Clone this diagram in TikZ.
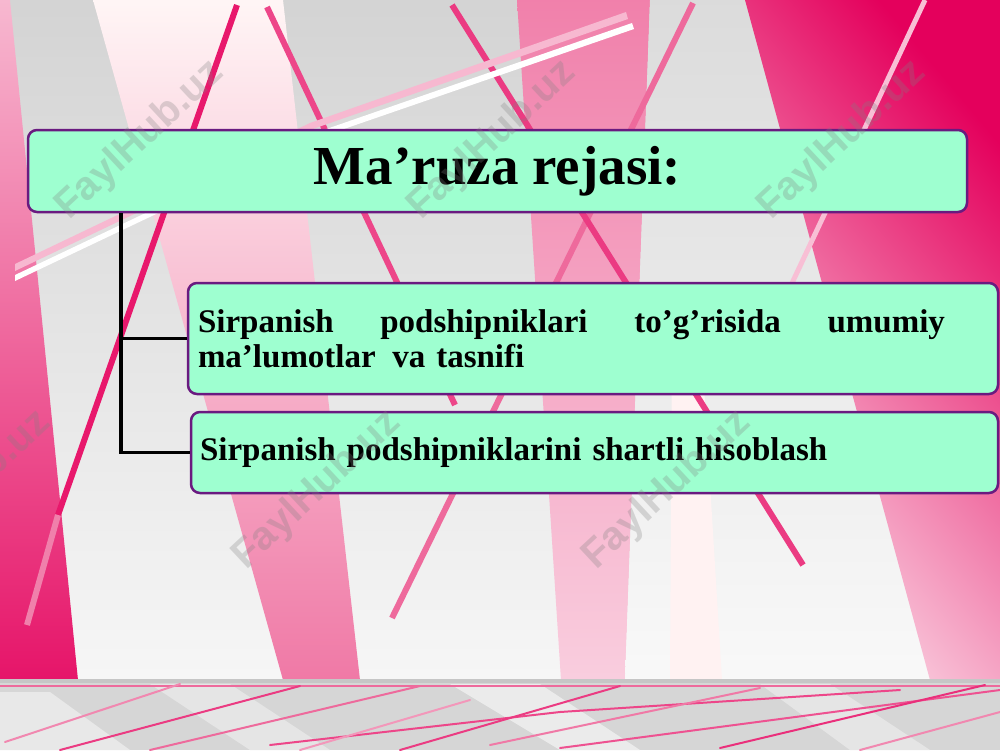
\documentclass[tikz,border=0pt]{standalone}
\usepackage{fontspec}
\setmainfont{Liberation Serif}
\newfontfamily\wmfont{Liberation Sans}
\usetikzlibrary{calc}
\definecolor{pdeep}{HTML}{E4005C}
\definecolor{pmid}{HTML}{EE6A9C}
\definecolor{plight}{HTML}{F7B8D0}
\definecolor{mint}{HTML}{9EFFD0}
\definecolor{bordc}{HTML}{6A1A80}
\definecolor{rib}{HTML}{E8186C}
\begin{document}
\begin{tikzpicture}[x=1pt,y=-1pt,
  box/.style={draw=bordc, line width=2.5pt, fill=mint, rounded corners=9pt, inner ysep=0pt},
  boxtext/.style={font=\bfseries\fontsize{33}{35}\selectfont},
  conn/.style={line width=3.5pt, black},
  ribbon/.style={line width=6pt, line cap=butt},
  wm/.style={font=\wmfont\bfseries\fontsize{40}{40}\selectfont, text=gray, opacity=0.28, rotate=43},
  floorline/.style={line width=2pt, line cap=round}]
\useasboundingbox (0,0) rectangle (1000,750);
\begin{scope}
\clip (0,0) rectangle (1000,750);
% base
\shade[top color=gray!34, bottom color=gray!7] (0,0) rectangle (1000,680);
% left pink band
\shade[top color=plight, bottom color=pdeep!92] (0,0) -- (10,0) -- (78,680) -- (0,680) -- cycle;
% light beam
\shade[top color=white!85!pink, middle color=pink!75!white, bottom color=pmid!90] (93,0) -- (283,0) -- (360,680) -- (283,680) -- cycle;
% band C
\shade[top color=pmid!85, bottom color=plight!70] (517,0) -- (650,0) -- (625,680) -- (561,680) -- cycle;
% gray band
\shade[top color=gray!28, bottom color=gray!5] (650,0) -- (745,0) -- (930,680) -- (625,680) -- cycle;
\shade[top color=white!80!pink, bottom color=pink!20!white] (672,320) -- (700,320) -- (722,680) -- (670,680) -- cycle;
% right pink region
\shade[top color=pdeep, bottom color=plight!55, shading angle=-50] (745,0) -- (1000,0) -- (1000,680) -- (930,680) -- cycle;
% pink ribbons
\draw[ribbon, rib] (237,5) -- (58,515);
\draw[ribbon, pmid!85] (58,515) -- (27,625);
\draw[ribbon, rib!80] (267,7) -- (455,405);
\draw[ribbon, pmid] (693,3) -- (392,618);
\draw[ribbon, rib!85] (452,5) -- (803,565);
\draw[ribbon, plight!90, line width=5pt] (925,0) -- (770,330);
% long double ribbon
\shade[left color=white, middle color=white!90!pink, right color=white] (632,23) -- (312,134) -- (15,275) -- (15,281) -- (312,140) -- (634,29) -- cycle;
\shade[left color=plight, middle color=pdeep, right color=plight] (626,12) -- (310,123) -- (15,264) -- (15,271) -- (310,130) -- (628,19) -- cycle;
% floor
\fill[gray!32] (0,680) rectangle (1000,750);
\fill[gray!18] (0,692) -- (50,692) -- (130,750) -- (0,750) -- cycle;
\fill[gray!20] (150,684) -- (230,684) -- (330,750) -- (250,750) -- cycle;
\fill[gray!16] (450,684) -- (540,684) -- (640,750) -- (560,750) -- cycle;
\fill[gray!20] (760,684) -- (830,684) -- (930,750) -- (850,750) -- cycle;
\fill[gray!45] (0,679) rectangle (1000,683);
\draw[pmid, line width=1.5pt] (0,686) -- (1000,686);
\draw[floorline, pmid!80] (5,742) -- (180,684);
\draw[floorline, rib!85] (60,750) -- (300,686);
\draw[floorline, pmid] (150,750) -- (420,686);
\draw[floorline, rib!80] (270,745) -- (560,712) -- (900,690);
\draw[floorline, pmid!70] (300,750) -- (470,700);
\draw[floorline, rib!85] (400,750) -- (620,686);
\draw[floorline, pmid!90] (490,745) -- (760,688);
\draw[floorline, rib!75] (560,748) -- (1000,690);
\draw[floorline, rib!90] (720,748) -- (985,685);
\draw[floorline, pmid!80] (860,750) -- (1000,712);
\end{scope}
% boxes
\node[box, minimum width=939pt, minimum height=82pt, font=\bfseries\fontsize{55}{60}\selectfont] (title) at (497.5,171) {Ma’ruza rejasi:};
\node[box, boxtext, minimum width=810pt, minimum height=111pt, text width=790pt, inner xsep=10pt, align=left] (box2) at (593,338.5)
  {\makebox[747pt][l]{Sirpanish\hfill podshipniklari\hfill to’g’risida\hfill umumiy}\\ma’lumotlar\hspace{0.5em}va tasnifi};
\node[box, boxtext, minimum width=807pt, minimum height=81pt, text width=789pt, inner xsep=9pt, align=left] (box3) at (594.5,452.5)
  {Sirpanish podshipniklarini shartli hisoblash};
% connectors
\coordinate (ctop) at ($(title.south west)+(94,0)$);
\draw[conn] (ctop) |- (box2.west);
\draw[conn] (ctop) |- (box3.west);
% watermarks
\begin{scope}
\clip (0,0) rectangle (1000,750);
\node[wm] (w1) at (140,140) {FaylHub.uz};
\node[wm] (w2) at (492,140) {FaylHub.uz};
\node[wm] (w3) at (842,140) {FaylHub.uz};
\node[wm] (w4) at (-33,490) {FaylHub.uz};
\node[wm] (w5) at (317,490) {FaylHub.uz};
\node[wm] (w6) at (667,490) {FaylHub.uz};
\end{scope}
\end{tikzpicture}
\end{document}
